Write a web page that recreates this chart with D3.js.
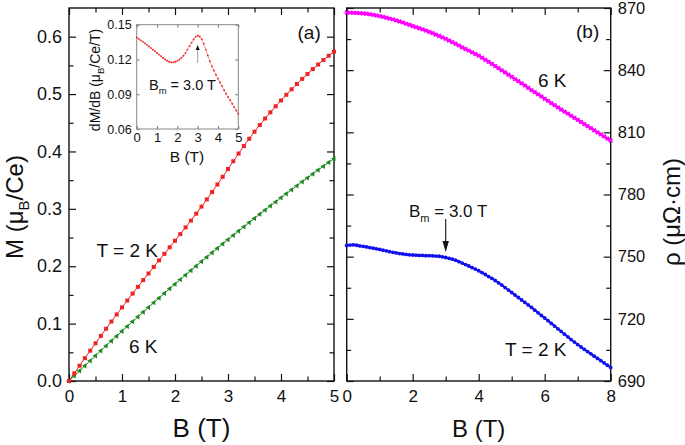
<!DOCTYPE html>
<html><head><meta charset="utf-8">
<script src="https://cdn.jsdelivr.net/npm/d3@7"></script>
<style>body{margin:0;background:#fff}svg text{font-family:"Liberation Sans",Arial,sans-serif;fill:#111}</style>
</head><body><svg id="c" width="685" height="445"></svg>
<script>
// ---------- data ----------
const bM = [0,0.1,0.2,0.3,0.4,0.5,0.6,0.7,0.8,0.9,1.0,1.1,1.2,1.3,1.4,1.5,1.6,1.7,1.8,1.9,2.0,2.1,2.2,2.3,2.4,2.5,2.6,2.7,2.8,2.9,3.0,3.1,3.2,3.3,3.4,3.5,3.6,3.7,3.8,3.9,4.0,4.1,4.2,4.3,4.4,4.5,4.6,4.7,4.8,4.9,5.0];
const m2K = [0,.0134,.0267,.0398,.0529,.0657,.0785,.0911,.1036,.1160,.1282,.1403,.1523,.1641,.1758,.1873,.1988,.2102,.2216,.2330,.2444,.2560,.2677,.2795,.2916,.3039,.3164,.3293,.3425,.3559,.3694,.3830,.3964,.4095,.4222,.4344,.4461,.4574,.4682,.4788,.4889,.4988,.5083,.5176,.5265,.5351,.5435,.5515,.5593,.5668,.5740];
const m6K = [0,.0089,.0177,.0265,.0352,.0439,.0526,.0612,.0697,.0782,.0867,.0951,.1035,.1118,.1201,.1283,.1365,.1446,.1527,.1608,.1688,.1768,.1847,.1925,.2003,.2081,.2158,.2235,.2312,.2388,.2463,.2538,.2612,.2686,.2760,.2833,.2906,.2978,.3050,.3121,.3192,.3262,.3332,.3402,.3471,.3539,.3607,.3675,.3742,.3808,.3875];
const dMdB = [.1390,.1378,.1365,.1352,.1339,.1326,.1312,.1298,.1284,.1270,.1256,.1242,.1228,.1213,.1200,.1189,.1180,.1175,.1175,.1180,.1188,.1200,.1215,.1232,.1255,.1285,.1315,.1345,.1372,.1395,.1405,.1398,.1375,.1335,.1285,.1235,.1185,.1142,.1105,.1068,.1035,.1002,.0972,.0935,.0905,.0876,.0848,.0818,.0788,.0759,.0730];
const bR = [0,0.1,0.2,0.3,0.4,0.5,0.6,0.7,0.8,0.9,1.0,1.1,1.2,1.3,1.4,1.5,1.6,1.7,1.8,1.9,2.0,2.1,2.2,2.3,2.4,2.5,2.6,2.7,2.8,2.9,3.0,3.1,3.2,3.3,3.4,3.5,3.6,3.7,3.8,3.9,4.0,4.1,4.2,4.3,4.4,4.5,4.6,4.7,4.8,4.9,5.0,5.1,5.2,5.3,5.4,5.5,5.6,5.7,5.8,5.9,6.0,6.1,6.2,6.3,6.4,6.5,6.6,6.7,6.8,6.9,7.0,7.1,7.2,7.3,7.4,7.5,7.6,7.7,7.8,7.9,8.0];
const rho6K = [867.8,867.8,867.7,867.6,867.5,867.4,867.2,867.0,866.7,866.4,866.1,865.7,865.3,864.9,864.5,864.0,863.5,863.0,862.4,861.9,861.3,860.8,860.2,859.7,859.1,858.5,857.9,857.2,856.5,855.8,855.1,854.3,853.5,852.7,851.9,851.0,850.2,849.4,848.6,847.8,847.0,846.0,845.0,844.0,843.0,842.0,841.0,839.9,838.9,837.8,836.8,835.7,834.7,833.6,832.6,831.5,830.4,829.4,828.3,827.3,826.2,825.2,824.1,823.1,822.0,821.0,820.0,819.0,818.0,817.0,816.0,815.0,814.0,813.0,812.0,811.0,810.0,809.0,808.0,807.0,806.0];
const rho2K = [755.4,755.6,755.7,755.5,755.2,755.0,754.7,754.4,754.1,753.8,753.5,753.1,752.8,752.4,752.1,751.8,751.5,751.3,751.1,750.9,750.8,750.7,750.6,750.6,750.5,750.5,750.4,750.3,750.2,749.9,749.6,749.2,748.8,748.3,747.6,746.9,746.2,745.5,744.7,744.0,743.2,742.3,741.4,740.4,739.5,738.5,737.4,736.3,735.1,733.9,732.7,731.5,730.3,729.1,727.9,726.7,725.5,724.2,722.9,721.6,720.4,719.1,717.8,716.5,715.2,713.9,712.6,711.3,710.0,708.8,707.6,706.4,705.3,704.2,703.1,702.0,700.9,699.8,698.7,697.6,696.5];
const mTicks = [0,0.1,0.2,0.3,0.4,0.5,0.6];
const mMinor = [0.05,0.15,0.25,0.35,0.45,0.55];
const bTicksM = [0,1,2,3,4,5];
const bMinorM = [0.5,1.5,2.5,3.5,4.5];
const rhoTicks = [690,720,750,780,810,840,870];
const rhoMinor = [705,735,765,795,825,855];
const bTicksR = [0,2,4,6,8];
const bMinorR = [1,3,5,7];
const inYTicks = [0.06,0.09,0.12,0.15];
const inXTicks = [0,1,2,3,4,5];
const bmValue = 3.0;

// ---------- scales ----------
const svg = d3.select('#c');
const L = {x0:69, x1:334, y0:8, y1:381};
const R = {x0:346.7, x1:610.7, y0:8, y1:381};
const I = {x0:136.7, x1:238.3, y0:24.7, y1:129};
const xM = d3.scaleLinear([0,5],[L.x0,L.x1]);
const yM = d3.scaleLinear([0,0.65],[L.y1,L.y0]);
const xR = d3.scaleLinear([0,8],[R.x0,R.x1]);
const yR = d3.scaleLinear([690,870],[R.y1,R.y0]);
const xI = d3.scaleLinear([0,5],[I.x0,I.x1]);
const yI = d3.scaleLinear([0.06,0.15],[I.y1,I.y0]);

function ax(gen, tf, vals, size, fmt, pad, fs, color){
  const g = svg.append('g').attr('transform', tf)
    .call(gen.tickValues(vals).tickSizeInner(size).tickSizeOuter(0).tickPadding(pad)
      .tickFormat(fmt ? fmt : () => ''));
  g.select('.domain').remove();
  g.selectAll('line').attr('stroke', color || '#111').attr('stroke-width', 1.2);
  g.selectAll('text').attr('font-size', fs || 17).attr('font-family', null);
  return g;
}

// ---------- left panel axes ----------
ax(d3.axisBottom(xM), `translate(0,${L.y1})`, bTicksM, -7, d3.format('d'), 9, 17);
ax(d3.axisBottom(xM), `translate(0,${L.y1})`, bMinorM, -4.5);
ax(d3.axisTop(xM), `translate(0,${L.y0})`, bTicksM, -7);
ax(d3.axisTop(xM), `translate(0,${L.y0})`, bMinorM, -4.5);
ax(d3.axisLeft(yM), `translate(${L.x0},0)`, mTicks, -7, d3.format('.1f'), 7, 18);
ax(d3.axisLeft(yM), `translate(${L.x0},0)`, mMinor, -4.5);
ax(d3.axisRight(yM), `translate(${L.x1},0)`, mTicks, -7);
ax(d3.axisRight(yM), `translate(${L.x1},0)`, mMinor, -4.5);
svg.append('rect').attr('x',L.x0).attr('y',L.y0).attr('width',L.x1-L.x0).attr('height',L.y1-L.y0)
  .attr('fill','none').attr('stroke','#111').attr('stroke-width',1.4);

// ---------- right panel axes ----------
ax(d3.axisBottom(xR), `translate(0,${R.y1})`, bTicksR, -7, d3.format('d'), 9, 17);
ax(d3.axisBottom(xR), `translate(0,${R.y1})`, bMinorR, -4.5);
ax(d3.axisTop(xR), `translate(0,${R.y0})`, bTicksR, -7);
ax(d3.axisTop(xR), `translate(0,${R.y0})`, bMinorR, -4.5);
ax(d3.axisRight(yR), `translate(${R.x1},0)`, rhoTicks, -7, d3.format('d'), 7, 16.5);
ax(d3.axisRight(yR), `translate(${R.x1},0)`, rhoMinor, -4.5);
ax(d3.axisLeft(yR), `translate(${R.x0},0)`, rhoTicks, -7);
ax(d3.axisLeft(yR), `translate(${R.x0},0)`, rhoMinor, -4.5);
svg.append('rect').attr('x',R.x0).attr('y',R.y0).attr('width',R.x1-R.x0).attr('height',R.y1-R.y0)
  .attr('fill','none').attr('stroke','#111').attr('stroke-width',1.4);

// ---------- left panel data ----------
const red = '#ee2424', green = '#1f8a1f', mag = '#ff00ff', blue = '#1010ee';
const d2 = bM.map((b,i)=>({b, v:m2K[i]}));
const d6 = bM.map((b,i)=>({b, v:m6K[i]}));
const lineM = d3.line().x(d=>xM(d.b)).y(d=>yM(d.v));
svg.append('path').datum(d6).attr('d', lineM).attr('fill','none').attr('stroke',green).attr('stroke-width',1);
svg.append('g').selectAll('path').data(d6).join('path')
  .attr('d', d3.symbol(d3.symbolTriangle, 12))
  .attr('transform', d=>`translate(${xM(d.b)},${yM(d.v)}) rotate(-90)`).attr('fill',green);
svg.append('path').datum(d2).attr('d', lineM).attr('fill','none').attr('stroke',red).attr('stroke-width',1);
svg.append('g').selectAll('rect').data(d2).join('rect')
  .attr('x', d=>xM(d.b)-2).attr('y', d=>yM(d.v)-2).attr('width',4).attr('height',4).attr('fill',red);

// ---------- right panel data ----------
const r6 = bR.map((b,i)=>({b, v:rho6K[i]}));
const r2 = bR.map((b,i)=>({b, v:rho2K[i]}));
const lineR = d3.line().x(d=>xR(d.b)).y(d=>yR(d.v));
svg.append('path').datum(r6).attr('d', lineR).attr('fill','none').attr('stroke',mag).attr('stroke-width',2.6);
svg.append('g').selectAll('path').data(r6).join('path')
  .attr('d', d3.symbol(d3.symbolCross, 14))
  .attr('transform', d=>`translate(${xR(d.b)},${yR(d.v)}) rotate(45)`).attr('fill',mag);
svg.append('path').datum(r2).attr('d', lineR).attr('fill','none').attr('stroke',blue).attr('stroke-width',2);
svg.append('g').selectAll('circle').data(r2).join('circle')
  .attr('cx', d=>xR(d.b)).attr('cy', d=>yR(d.v)).attr('r',1.9).attr('fill',blue);

// ---------- inset ----------
svg.append('rect').attr('x',I.x0).attr('y',I.y0).attr('width',I.x1-I.x0).attr('height',I.y1-I.y0)
  .attr('fill','#fff').attr('stroke','#888').attr('stroke-width',1);
ax(d3.axisBottom(xI), `translate(0,${I.y1})`, inXTicks, -3, d3.format('d'), 4, 13, '#888');
ax(d3.axisTop(xI), `translate(0,${I.y0})`, inXTicks, -3, null, 0, 13, '#888');
ax(d3.axisLeft(yI), `translate(${I.x0},0)`, inYTicks, -3, d3.format('.2f'), 5, 12.5, '#888');
ax(d3.axisRight(yI), `translate(${I.x1},0)`, inYTicks, -3, null, 0, 12.5, '#888');
const di = bM.map((b,i)=>({b, v:dMdB[i]}));
svg.append('path').datum(di).attr('d', d3.line().x(d=>xI(d.b)).y(d=>yI(d.v)))
  .attr('fill','none').attr('stroke',red).attr('stroke-width',0.7).attr('opacity',0.6);
svg.append('g').selectAll('circle').data(di).join('circle')
  .attr('cx', d=>xI(d.b)).attr('cy', d=>yI(d.v)).attr('r',0.95).attr('fill',red);
// inset arrow
svg.append('line').attr('x1',xI(bmValue)).attr('x2',xI(bmValue)).attr('y1',63).attr('y2',49)
  .attr('stroke','#999').attr('stroke-width',1);
svg.append('path').attr('d',`M${xI(bmValue)},45 l-2,5 l4,0 z`).attr('fill','#111');

// ---------- text ----------
function T(x,y,fs,parts,opts){
  const t = svg.append('text').attr('font-size',fs);
  if (opts && opts.rot) t.attr('transform',`translate(${x},${y}) rotate(-90)`).attr('text-anchor','middle');
  else t.attr('x',x).attr('y',y).attr('text-anchor', (opts&&opts.anchor)||'start');
  let shift = 0;
  parts.forEach(p=>{
    if (typeof p === 'string') { t.append('tspan').attr('dy', -shift).text(p); shift = 0; }
    else { t.append('tspan').attr('font-size', p.fs).attr('dy', p.dy).text(p.s); shift = p.dy; }
  });
  return t;
}
T(201.5,437,26,['B (T)'],{anchor:'middle'});
T(478.7,437,24,['B (T)'],{anchor:'middle'});
T(23,207,24,['M (μ',{s:'B',fs:15,dy:6},'/Ce)'],{rot:true});
T(680,212,24,['ρ (μΩ·cm)'],{rot:true});
T(297.5,38.5,19,['(a)']);
T(576,38,19,['(b)']);
T(96.5,257,19,['T = 2 K']);
T(129,353,19,['6 K']);
T(538,87,19,['6 K']);
T(505,356,19,['T = 2 K']);
T(409,216.7,17,['B',{s:'m',fs:11,dy:5},' = 3.0 T']);
T(149,89.5,14.5,['B',{s:'m',fs:9.5,dy:4},' = 3.0 T']);
T(187,162,15.5,['B (T)'],{anchor:'middle'});
T(100,80,14,['dM/dB (μ',{s:'B',fs:9.5,dy:4},'/Ce/T)'],{rot:true});

// right panel arrow
svg.append('line').attr('x1',xR(bmValue)).attr('x2',xR(bmValue)).attr('y1',219).attr('y2',243)
  .attr('stroke','#111').attr('stroke-width',1.1);
svg.append('path').attr('d',`M${xR(bmValue)},252 l-3.2,-11 l6.4,0 z`).attr('fill','#111');
</script></body></html>
